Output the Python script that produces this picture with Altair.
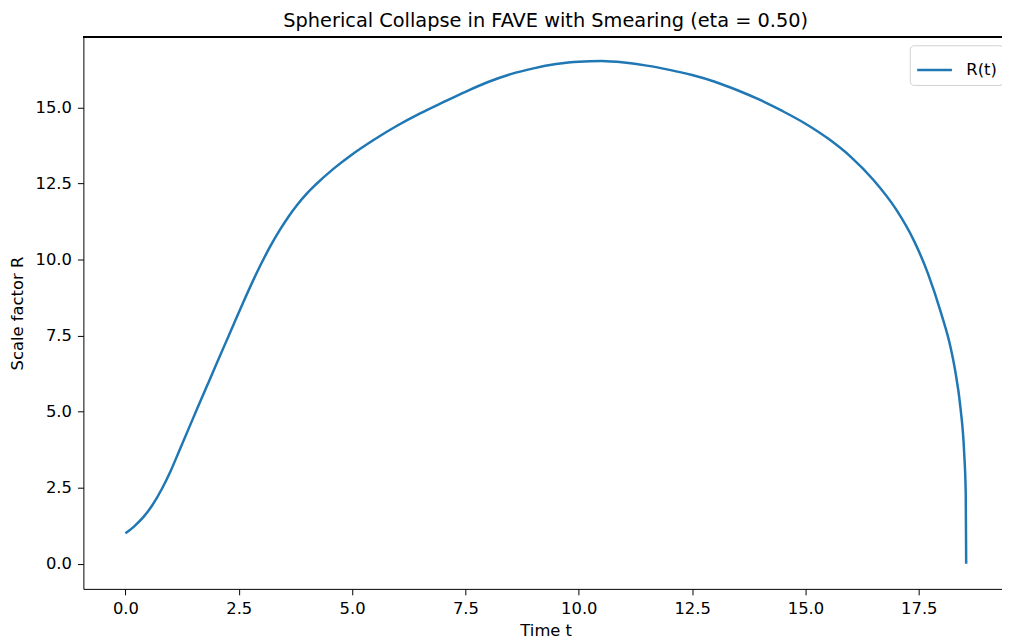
import altair as alt
import pandas as pd

# Data
t_vals = [0.0, 0.2, 0.4, 0.6, 0.8, 1.0, 1.2, 1.4, 1.6, 1.8, 2.0, 2.2, 2.4, 2.6, 2.8,
          3.0, 3.2, 3.4, 3.6, 3.8, 4.0, 4.2, 4.6, 5.0, 5.5, 6.0, 6.5, 7.0, 7.5, 8.0,
          8.5, 9.0, 9.5, 10.0, 10.5, 11.0, 11.5, 12.0, 12.5, 13.0, 13.5, 14.0, 14.5,
          15.0, 15.5, 16.0, 16.5, 17.0, 17.4, 17.7, 18.0, 18.2, 18.3, 18.42, 18.5,
          18.535, 18.545]
r_vals = [1.00, 1.24, 1.54, 1.94, 2.45, 3.06, 3.76, 4.46, 5.16, 5.85, 6.54, 7.23,
          7.92, 8.60, 9.26, 9.88, 10.45, 10.96, 11.42, 11.82, 12.17, 12.47, 13.00,
          13.46, 13.96, 14.41, 14.81, 15.17, 15.52, 15.84, 16.10, 16.29, 16.43,
          16.51, 16.53, 16.48, 16.38, 16.24, 16.07, 15.85, 15.57, 15.25, 14.88,
          14.47, 13.98, 13.38, 12.62, 11.65, 10.60, 9.55, 8.20, 7.12, 6.37, 5.12,
          3.66, 2.30, 0.00]
series_name = "R(t)"
x_ticks = [0.0, 2.5, 5.0, 7.5, 10.0, 12.5, 15.0, 17.5]
y_ticks = [0.0, 2.5, 5.0, 7.5, 10.0, 12.5, 15.0]
title_text = "Spherical Collapse in FAVE with Smearing (eta = 0.50)"
x_title = "Time t"
y_title = "Scale factor R"

df = pd.DataFrame({"t": t_vals, "R": r_vals, "series": [series_name] * len(t_vals)})

W, H = 926, 556
FONT = "DejaVu Sans"

line = alt.Chart(df).mark_line(strokeWidth=2.5, interpolate="monotone").encode(
    x=alt.X("t:Q",
            scale=alt.Scale(domain=[-0.927, 19.335], nice=False, zero=False),
            axis=alt.Axis(values=x_ticks, format=".1f", title=x_title, grid=False,
                          titleX=466, titlePadding=5)),
    y=alt.Y("R:Q",
            scale=alt.Scale(domain=[-0.826, 17.31], nice=False, zero=False),
            axis=alt.Axis(values=y_ticks, format=".1f", title=y_title, grid=False,
                          titlePadding=10)),
    color=alt.Color("series:N", scale=alt.Scale(range=["#1f77b4"]),
                    legend=alt.Legend(title=None, orient="none", legendX=833, legendY=8,
                                      symbolType="stroke", symbolSize=1225,
                                      symbolStrokeWidth=2.5, labelFontSize=16.5,
                                      labelFont=FONT, labelColor="#000000",
                                      labelOffset=13, padding=6,
                                      strokeColor="#d0d0d0", fillColor="#ffffff",
                                      cornerRadius=4)),
)

top_border = alt.Chart(df).mark_rule(color="#000000", strokeWidth=1).encode(
    x=alt.value(0), x2=alt.value(W), y=alt.value(0)
)

chart = alt.layer(line, top_border).properties(
    width=W, height=H,
    title=alt.TitleParams(title_text, fontSize=19.5, font=FONT, fontWeight="normal",
                          color="#000000", anchor="middle", offset=5, dx=3),
    padding={"left": 76, "top": 27, "right": 0, "bottom": 52},
    autosize=alt.AutoSizeParams(type="none"),
).configure_view(stroke=None).configure_axis(
    domainColor="#000000", tickColor="#000000", labelColor="#000000",
    titleColor="#000000", labelFont=FONT, titleFont=FONT, labelFontSize=16.5,
    titleFontSize=16.5, titleFontWeight="normal", tickSize=6, labelPadding=6,
    domainWidth=1, tickWidth=1,
)

chart.save("out.html", embed_options={"renderer": "svg", "actions": False})
